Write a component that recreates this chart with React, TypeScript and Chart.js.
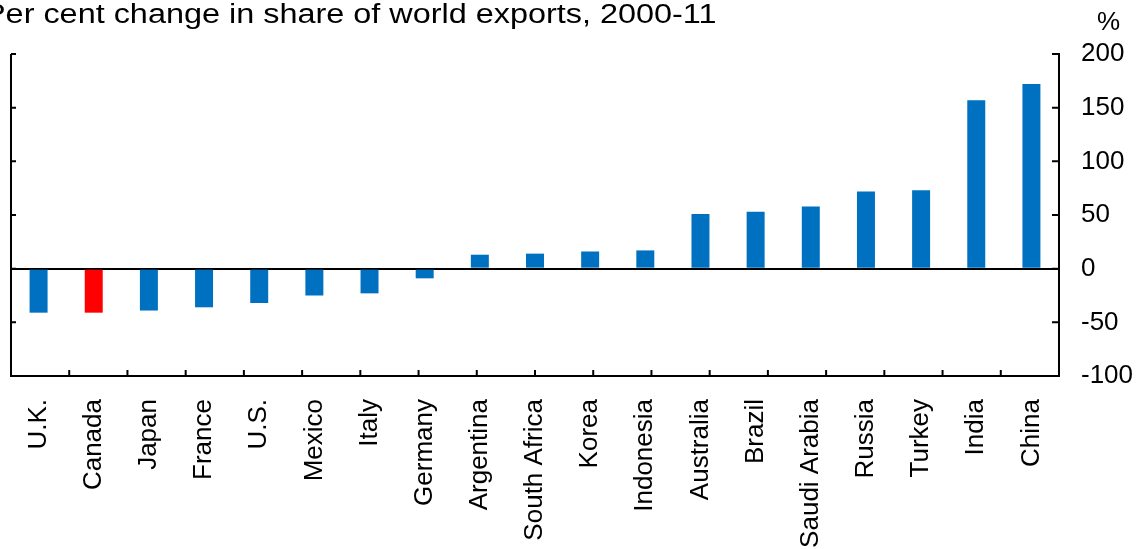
import React, { useEffect, useRef } from "react";
import { Chart, registerables } from "chart.js";

Chart.register(...registerables);

const categories = [
  "U.K.", "Canada", "Japan", "France", "U.S.", "Mexico", "Italy", "Germany",
  "Argentina", "South Africa", "Korea", "Indonesia", "Australia", "Brazil",
  "Saudi Arabia", "Russia", "Turkey", "India", "China",
];
const values = [-41, -41, -39, -36, -32, -25, -23, -9, 13, 14, 16, 17, 51, 53, 58, 72, 73, 157, 172];
const highlighted = "Canada";
const yTicks = [-100, -50, 0, 50, 100, 150, 200];
const titleText = "Per cent change in share of world exports, 2000-11";
const unitText = "%";

const BLUE = "#0070C0";
const RED = "#FF0000";
const FONT = "'Liberation Sans', Arial, sans-serif";

const decorPlugin = {
  id: "decor",
  afterDraw(chart: any) {
    const { ctx, chartArea, scales } = chart;
    const y = scales.y;
    const xt = scales.xt;
    ctx.save();
    ctx.strokeStyle = "#000";
    ctx.lineWidth = 2;
    // left axis line
    ctx.beginPath();
    ctx.moveTo(chartArea.left, chartArea.top);
    ctx.lineTo(chartArea.left, chartArea.bottom + 1);
    ctx.stroke();
    // inward y ticks on both sides
    yTicks.forEach((v) => {
      const py = y.getPixelForValue(v);
      ctx.beginPath();
      ctx.moveTo(chartArea.left, py);
      ctx.lineTo(chartArea.left + 5, py);
      ctx.moveTo(chartArea.right - 7, py);
      ctx.lineTo(chartArea.right, py);
      ctx.stroke();
    });
    // inward x ticks
    for (let i = 1; i < 18; i++) {
      const px = xt.getPixelForValue(i);
      ctx.beginPath();
      ctx.moveTo(px, chartArea.bottom);
      ctx.lineTo(px, chartArea.bottom - 6);
      ctx.stroke();
    }
    // title
    ctx.fillStyle = "#000";
    ctx.textBaseline = "alphabetic";
    ctx.textAlign = "left";
    ctx.font = `27px ${FONT}`;
    ctx.save();
    ctx.translate(-16, 23);
    ctx.scale(1.2, 1);
    ctx.fillText(titleText, 0, 0);
    ctx.restore();
    // unit
    ctx.font = `26px ${FONT}`;
    ctx.fillText(unitText, 1097, 30);
    ctx.restore();
  },
};

export default function App() {
  const ref = useRef<HTMLCanvasElement>(null);
  useEffect(() => {
    document.body.style.margin = "0";
    Chart.defaults.font.family = FONT;
    const chart = new Chart(ref.current!, {
      type: "bar",
      data: {
        labels: categories,
        datasets: [
          {
            data: values,
            backgroundColor: categories.map((c) => (c === highlighted ? RED : BLUE)),
            borderWidth: 0,
            barPercentage: 0.326,
            categoryPercentage: 1,
          },
        ],
      },
      options: {
        responsive: false,
        animation: false,
        devicePixelRatio: 1,
        layout: { padding: { left: 11, top: 54, right: 0, bottom: 0 } },
        plugins: { legend: { display: false }, tooltip: { enabled: false }, title: { display: false } },
        scales: {
          x: {
            type: "category",
            position: "bottom",
            grid: { display: false },
            border: { display: true, color: "#000", width: 2 },
            ticks: {
              color: "#000",
              font: { size: 26, family: FONT },
              minRotation: 90,
              maxRotation: 90,
              autoSkip: false,
              padding: 15,
            },
            afterFit: (s: any) => { s.height = 173; },
          },
          xt: {
            type: "linear",
            display: false,
            offset: false,
            grid: { offset: false },
            min: 0,
            max: 18,
          },
          y: {
            type: "linear",
            position: "right",
            min: -100,
            max: 200,
            afterBuildTicks: (s: any) => { s.ticks = yTicks.map((v) => ({ value: v })); },
            grid: {
              drawOnChartArea: true,
              drawTicks: false,
              lineWidth: 2,
              color: (c: any) => (c.tick && c.tick.value === 0 ? "#000" : "rgba(0,0,0,0)"),
            },
            border: { display: true, color: "#000", width: 2 },
            ticks: {
              color: "#000",
              font: { size: 26, family: FONT },
              padding: 22,
            },
            afterFit: (s: any) => { s.width = 81; },
          },
        },
      },
      plugins: [decorPlugin],
    });
    return () => chart.destroy();
  }, []);
  return (
    <div style={{ width: 1140, height: 549 }}>
      <canvas ref={ref} width={1140} height={549} style={{ display: "block" }} />
    </div>
  );
}
